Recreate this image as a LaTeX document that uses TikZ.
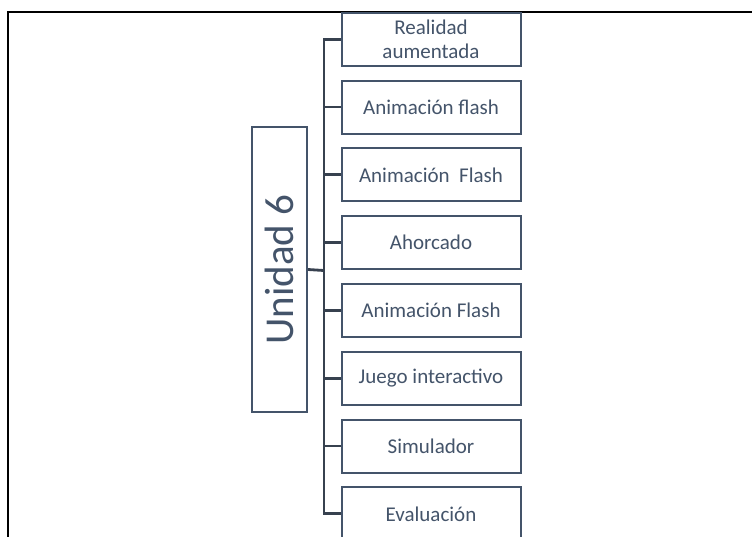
\documentclass[tikz,border=0pt]{standalone}
\usepackage{fontspec}
\setmainfont{Carlito}
\usetikzlibrary{calc}
\definecolor{slate}{HTML}{44546A}
\definecolor{darkslate}{HTML}{37414F}
\tikzstyle{leaf}=[rectangle,draw=slate,line width=2pt,fill=white,text=slate,minimum width=179pt,minimum height=53pt,inner sep=0pt,align=center,font=\fontsize{21}{24}\selectfont]
\tikzstyle{unitbox}=[rectangle,draw=slate,line width=2pt,text=slate,minimum width=285pt,minimum height=55pt,inner sep=0pt,rotate=90,font=\fontsize{41}{44}\selectfont]
\tikzstyle{branch} = [draw=darkslate,line width=2.8pt]
\tikzstyle{frame} = [draw=black,line width=1.5pt]

\begin{document}
\begin{tikzpicture}[x=1pt,y=-1pt]
    \useasboundingbox (0,0) rectangle (752,536);

    % frame
    \coordinate (framebl) at (8,537);
    \coordinate (frametl) at (8,12);
    \coordinate (frametr) at (753,12);
    \path[frame] (framebl) -- (frametl) -- (frametr);

    \node[unitbox] (unidad) at (279.5,269.5) {Unidad 6};
    \coordinate (hub) at (324,270.5);

    \foreach \pos/ \name/ \label in {{(431,39.2)/ra/{Realidad\\aumentada}}, {(431,107)/af1/{Animación flash}},
        {(431,174.8)/af2/{Animación\ \ Flash}}, {(431,242.6)/ah/{Ahorcado}}, {(431,310.4)/af3/{Animación Flash}},
        {(431,378.2)/ji/{Juego interactivo}}, {(431,446)/si/{Simulador}}, {(431,513.8)/ev/{Evaluación}}}
        \node[leaf] (\name) at \pos {\label};

    % connect unit to activities
    \path[branch] (unidad.south) -- (hub);
    \foreach \dest in {ra, af1, af2, ah, af3, ji, si, ev}
        \path[branch] (hub) |- (\dest.west);

\end{tikzpicture}
\end{document}
